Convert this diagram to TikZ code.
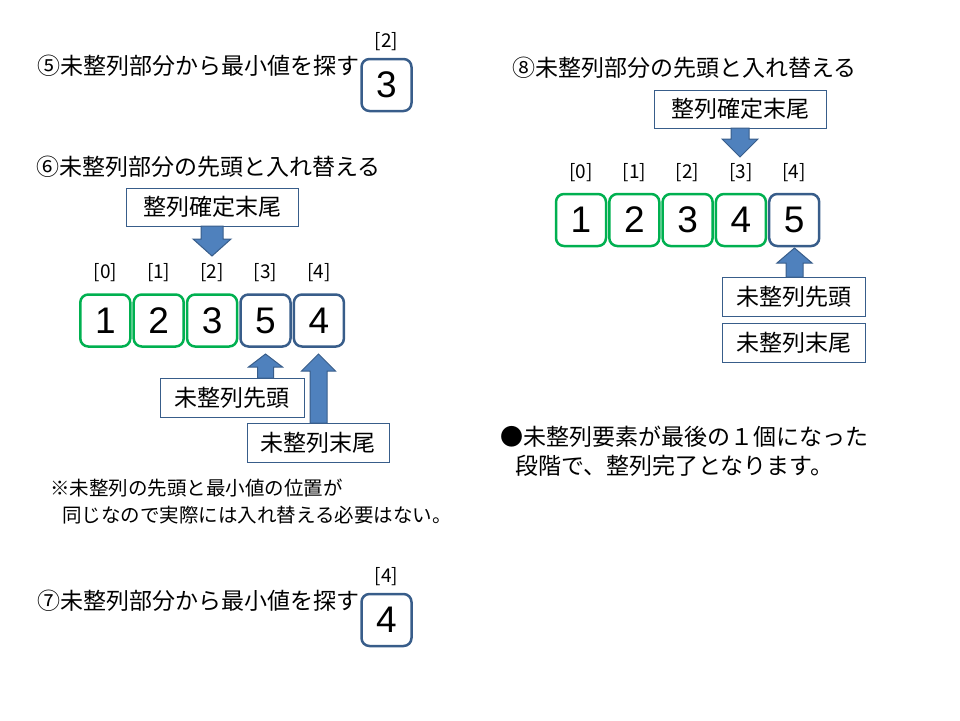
\documentclass[tikz,border=0pt]{standalone}
\usepackage{fontspec}
\setmainfont{Noto Sans CJK JP}
\newfontfamily\arialf{Liberation Sans}
\definecolor{boxblue}{HTML}{385D8A}
\definecolor{arrfill}{HTML}{4F81BD}
\definecolor{grn}{HTML}{00B050}
\tikzset{
  headtxt/.style={anchor=west,inner sep=0pt,font=\fontsize{23}{28}\selectfont},
  notetxt/.style={anchor=west,inner sep=0pt,font=\fontsize{19.5}{22}\selectfont},
  cell/.style={draw=#1,line width=2.5pt,rounded corners=8pt,minimum width=50pt,minimum height=52pt,inner sep=0pt,font=\arialf\fontsize{37}{40}\selectfont},
  idx/.style={inner sep=0pt,font=\fontsize{19}{21}\selectfont},
  tbox/.style={draw=boxblue,line width=1pt,minimum width=#1,minimum height=38pt,inner sep=0pt,font=\fontsize{23}{28}\selectfont},
  blk/.style={fill=arrfill,draw=boxblue,line width=1pt,line join=miter}
}
% #1 centre x, #2 tip y, #3 base y, #4 head half width, #5 shaft half width, #6 head end y
\newcommand\blkarrow[6]{%
  \draw[blk] (#1,#2) -- (#1+#4,#6) -- (#1+#5,#6) -- (#1+#5,#3) -- (#1-#5,#3) -- (#1-#5,#6) -- (#1-#4,#6) -- cycle;}
\begin{document}
\begin{tikzpicture}[x=1pt,y=-1pt]
\useasboundingbox (0,0) rectangle (960,720);

% ---- step 5 ----
\node[headtxt] (h5) at (37,66) {⑤未整列部分から最小値を探す};
\node[cell=boxblue] (s5) at (386.5,85) {3};
\node[idx] (i5) at (386.5,42) {[2]};

% ---- step 6 ----
\node[headtxt] (h6) at (36,167) {⑥未整列部分の先頭と入れ替える};
\node[tbox=172pt] (t6a) at (212,207) {整列確定末尾};
\node[cell=grn] (c6a) at (105.3,320.5) {1};
\node[cell=grn] (c6b) at (158.7,320.5) {2};
\node[cell=grn] (c6c) at (212.1,320.5) {3};
\node[cell=boxblue] (c6d) at (265.5,320.5) {5};
\node[cell=boxblue] (c6e) at (318.9,320.5) {4};
\node[idx] (i6a) at (105.3,273) {[0]};
\node[idx] (i6b) at (158.7,273) {[1]};
\node[idx] (i6c) at (212.1,273) {[2]};
\node[idx] (i6d) at (265.5,273) {[3]};
\node[idx] (i6e) at (318.9,273) {[4]};
\node[tbox=144pt,minimum height=39pt] (t6b) at (232,397.5) {未整列先頭};
\node[tbox=142pt,minimum height=39pt] (t6c) at (318,442.5) {未整列末尾};
\blkarrow{212}{256}{226}{19}{11}{239}
\blkarrow{265.5}{354}{378}{17}{8}{367}
\blkarrow{318.5}{354}{423}{17}{8.5}{371}

\node[notetxt] (n1) at (50,488) {※未整列の先頭と最小値の位置が};
\node[notetxt] (n2) at (62,515) {同じなので実際には入れ替える必要はない。};

% ---- step 7 ----
\node[headtxt] (h7) at (37,601) {⑦未整列部分から最小値を探す};
\node[cell=boxblue] (s7) at (386.5,620) {4};
\node[idx] (i7) at (386.5,577) {[4]};

% ---- step 8 ----
\node[headtxt] (h8) at (512,68) {⑧未整列部分の先頭と入れ替える};
\node[tbox=172pt] (t8a) at (740,109) {整列確定末尾};
\node[cell=grn] (c8a) at (581,220) {1};
\node[cell=grn] (c8b) at (634.3,220) {2};
\node[cell=grn] (c8c) at (687.6,220) {3};
\node[cell=grn] (c8d) at (740.9,220) {4};
\node[cell=boxblue] (c8e) at (794.2,220) {5};
\node[idx] (i8a) at (581,173) {[0]};
\node[idx] (i8b) at (634.3,173) {[1]};
\node[idx] (i8c) at (687.6,173) {[2]};
\node[idx] (i8d) at (740.9,173) {[3]};
\node[idx] (i8e) at (794.2,173) {[4]};
\node[tbox=143pt,minimum height=39pt] (t8b) at (793.5,296.5) {未整列先頭};
\node[tbox=143pt,minimum height=39pt] (t8c) at (793.5,342.5) {未整列末尾};
\blkarrow{740}{157}{128}{18}{9}{139}
\blkarrow{794.5}{248}{277}{17.5}{8.5}{263}

\node[headtxt] (f1) at (500,437) {●未整列要素が最後の１個になった};
\node[headtxt] (f2) at (515,466) {段階で、整列完了となります。};
\end{tikzpicture}
\end{document}
